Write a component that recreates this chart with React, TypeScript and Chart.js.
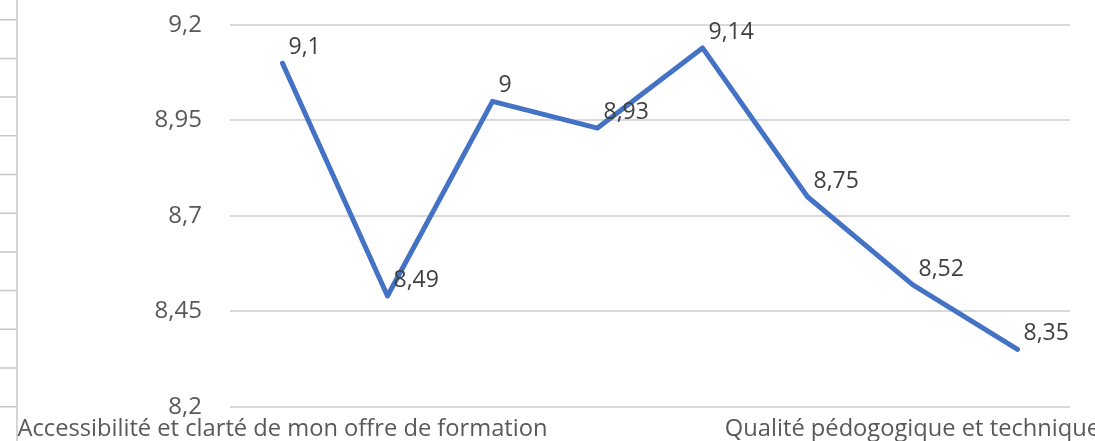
import React, { useEffect, useRef } from "react";
import { Chart, registerables } from "chart.js";

Chart.register(...registerables);

const categories: string[] = [
  "Accessibilité et clarté de mon offre de formation",
  "",
  "",
  "",
  "",
  "",
  "Qualité pédogogique et technique",
  "",
];
const values: number[] = [9.1, 8.49, 9, 8.93, 9.14, 8.75, 8.52, 8.35];
const yMin = 8.2;
const yMax = 9.2;
const yStep = 0.25;

const fmt = (v: number) => String(Math.round(v * 100) / 100).replace(".", ",");

const FONT = "'Open Sans', sans-serif";

const dataLabels = {
  id: "dataLabels",
  afterDatasetsDraw(chart: any) {
    const ctx = chart.ctx;
    const meta = chart.getDatasetMeta(0);
    ctx.save();
    ctx.font = `23px ${FONT}`;
    ctx.fillStyle = "#404040";
    ctx.textAlign = "left";
    ctx.textBaseline = "alphabetic";
    meta.data.forEach((pt: any, i: number) => {
      ctx.fillText(fmt(values[i]), pt.x + 6, pt.y - 9);
    });
    ctx.restore();
  },
};

const leftFrame = {
  id: "leftFrame",
  beforeDraw(chart: any) {
    const ctx = chart.ctx;
    const bottom = chart.chartArea.bottom;
    ctx.save();
    ctx.strokeStyle = "#c8c8c8";
    ctx.lineWidth = 1.5;
    ctx.beginPath();
    ctx.moveTo(17, 0);
    ctx.lineTo(17, chart.height);
    for (let i = 0; i <= 10; i++) {
      const y = bottom - i * 38.7;
      ctx.moveTo(0, y);
      ctx.lineTo(17, y);
    }
    ctx.stroke();
    ctx.restore();
  },
};

export default function App() {
  const ref = useRef<HTMLCanvasElement>(null);
  useEffect(() => {
    if (!ref.current) return;
    const chart = new Chart(ref.current, {
      type: "line",
      data: {
        labels: categories,
        datasets: [
          {
            data: values,
            borderColor: "#4472C4",
            borderWidth: 5,
            borderCapStyle: "round",
            borderJoinStyle: "round",
            pointRadius: 0,
            tension: 0,
            fill: false,
          },
        ],
      },
      options: {
        responsive: false,
        animation: false,
        layout: { padding: { top: 25, right: 25, bottom: 0, left: 0 } },
        plugins: { legend: { display: false }, tooltip: { enabled: false } },
        scales: {
          x: {
            offset: true,
            grid: { display: false, drawTicks: false },
            border: { display: false },
            afterFit: (scale: any) => {
              scale.height = 34.3;
              scale.paddingLeft = 0;
              scale.paddingRight = 0;
            },
            ticks: {
              autoSkip: false,
              maxRotation: 0,
              minRotation: 0,
              padding: 11,
              color: "#595959",
              font: { family: FONT, size: 23.7, lineHeight: 1 },
            },
          },
          y: {
            min: yMin,
            max: yMax,
            grid: { color: "#d9d9d9", lineWidth: 2, drawTicks: false },
            border: { display: false },
            afterFit: (scale: any) => {
              scale.width = 230;
              scale.paddingTop = 0;
              scale.paddingBottom = 0;
            },
            ticks: {
              stepSize: yStep,
              padding: 28,
              color: "#595959",
              font: { family: FONT, size: 24 },
              callback: (v: any) => fmt(Number(v)),
            },
          },
        },
      },
      plugins: [dataLabels, leftFrame],
    });
    return () => chart.destroy();
  }, []);
  return (
    <div style={{ position: "fixed", left: 0, top: 0, width: 1095, height: 441, background: "#fff" }}>
      <canvas ref={ref} width={1095} height={441} />
    </div>
  );
}
